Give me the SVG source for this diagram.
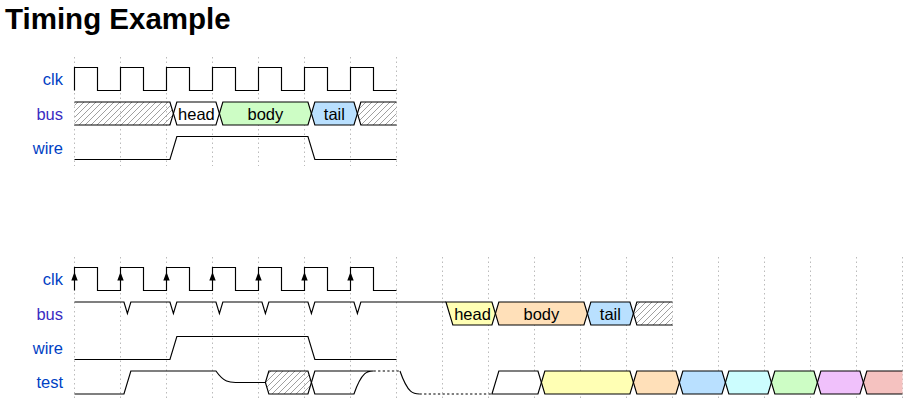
<svg xmlns="http://www.w3.org/2000/svg" width="916" height="418" viewBox="0 0 916 418">
<style>
.title{font-family:"Liberation Sans",Arial,sans-serif;font-weight:bold;font-size:29.5px;fill:#000}
.lbl{font-family:"Liberation Sans",Arial,sans-serif;font-size:16.5px;fill:#0041c4;text-anchor:end}
.lbl.b{fill:#3a2cc2}
.dt{font-family:"Liberation Sans",Arial,sans-serif;font-size:16.5px;fill:#000;text-anchor:middle}
.grid{stroke:#bbb;stroke-width:1;stroke-dasharray:1.5,3}
.w{fill:none;stroke:#000;stroke-width:1.15;stroke-linejoin:miter}
.box{stroke:#000;stroke-width:1.15}
.dot{fill:none;stroke:#000;stroke-width:1.15;stroke-dasharray:2.3,2.3}
.arr{fill:#000;stroke:none}
</style>
<defs>
<pattern id="hatch" patternUnits="userSpaceOnUse" width="6" height="6">
<path d="M-1,1 l2,-2 M0,6 l6,-6 M5,7 l2,-2" stroke="#888" stroke-width="0.8"/>
</pattern>
</defs>
<rect width="916" height="418" fill="#fff"/>
<text class="title" x="5" y="29">Timing Example</text>

<g id="grid1">
<path class="grid" d="M74.5,57V166 M120.5,57V166 M166.5,57V166 M212.5,57V166 M258.5,57V166 M304.5,57V166 M350.5,57V166 M396.5,57V166"/>
</g>
<g id="grid2">
<path class="grid" d="M74.5,257V400 M120.5,257V400 M166.5,257V400 M212.5,257V400 M258.5,257V400 M304.5,257V400 M350.5,257V400 M396.5,257V400 M442.5,257V400 M488.5,257V400 M534.5,257V400 M580.5,257V400 M626.5,257V400 M672.5,257V400 M718.5,257V400 M764.5,257V400 M810.5,257V400 M856.5,257V400 M902.5,257V400"/>
</g>

<g id="clk1">
<text class="lbl" x="63" y="85">clk</text>
<path class="w" d="M74.5,90.5V67.5H97.5V90.5H120.5V67.5H143.5V90.5H166.5V67.5H189.5V90.5H212.5V67.5H235.5V90.5H258.5V67.5H281.5V90.5H304.5V67.5H327.5V90.5H350.5V67.5H373.5V90.5H396.5"/>
</g>

<g id="bus1">
<text class="lbl b" x="63" y="119.5">bus</text>
<path class="box" fill="url(#hatch)" d="M74.5,102H169.95L173.4,113.5L169.95,125H74.5"/>
<path class="box" fill="#fff" d="M173.4,113.5L176.85,102H215.95L219.4,113.5L215.95,125H176.85Z"/>
<path class="box" fill="#cdfdc5" d="M219.4,113.5L222.85,102H307.95L311.4,113.5L307.95,125H222.85Z"/>
<path class="box" fill="#b9e0ff" d="M311.4,113.5L314.85,102H353.95L357.4,113.5L353.95,125H314.85Z"/>
<path class="box" fill="url(#hatch)" d="M396.5,102H360.85L357.4,113.5L360.85,125H396.5"/>
<text class="dt" x="196.4" y="119.5">head</text>
<text class="dt" x="265.4" y="119.5">body</text>
<text class="dt" x="334.4" y="119.5">tail</text>
</g>

<g id="wire1">
<text class="lbl" x="63" y="154">wire</text>
<path class="w" d="M74.5,159.5H169.95L176.85,136.5H307.95L314.85,159.5H396.5"/>
</g>

<g id="clk2">
<text class="lbl" x="63" y="285">clk</text>
<path class="w" d="M74.5,290.5V267.5H97.5V290.5H120.5V267.5H143.5V290.5H166.5V267.5H189.5V290.5H212.5V267.5H235.5V290.5H258.5V267.5H281.5V290.5H304.5V267.5H327.5V290.5H350.5V267.5H373.5V290.5H396.5"/>
<path class="arr" d="M71.3,280.5L74.5,272L77.7,280.5Z M117.3,280.5L120.5,272L123.7,280.5Z M163.3,280.5L166.5,272L169.7,280.5Z M209.3,280.5L212.5,272L215.7,280.5Z M255.3,280.5L258.5,272L261.7,280.5Z M301.3,280.5L304.5,272L307.7,280.5Z M347.3,280.5L350.5,272L353.7,280.5Z"/>
</g>

<g id="bus2">
<text class="lbl b" x="63" y="319.5">bus</text>
<path class="w" d="M74.5,302H123.95L127.4,313.5L130.85,302H169.95L173.4,313.5L176.85,302H215.95L219.4,313.5L222.85,302H261.95L265.4,313.5L268.85,302H307.95L311.4,313.5L314.85,302H353.95L357.4,313.5L360.85,302H445.95"/>
<path class="box" fill="#ffffb4" d="M445.95,302H491.95L495.4,313.5L491.95,325H452.85Z"/>
<path class="box" fill="#ffe0b9" d="M495.4,313.5L498.85,302H583.95L587.4,313.5L583.95,325H498.85Z"/>
<path class="box" fill="#b9e0ff" d="M587.4,313.5L590.85,302H629.95L633.4,313.5L629.95,325H590.85Z"/>
<path class="box" fill="url(#hatch)" d="M672.5,302H636.85L633.4,313.5L636.85,325H672.5"/>
<text class="dt" x="472.5" y="319.5">head</text>
<text class="dt" x="541.4" y="319.5">body</text>
<text class="dt" x="610.4" y="319.5">tail</text>
</g>

<g id="wire2">
<text class="lbl" x="63" y="354">wire</text>
<path class="w" d="M74.5,359.5H169.95L176.85,336.5H307.95L314.85,359.5H396.5"/>
</g>

<g id="test">
<text class="lbl" x="63" y="388">test</text>
<path class="w" d="M74.5,394H123.95L130.85,371H215.95C224,382.5 229.75,382.5 235.5,382.5H265.4"/>
<path class="box" fill="url(#hatch)" d="M265.4,382.5L268.85,371H307.95L311.4,382.5L307.95,394H268.85Z"/>
<path class="w" d="M311.4,382.5L314.85,371H373.5 M311.4,382.5L314.85,394H353.95C362,371 367.75,371 373.5,371"/>
<path class="dot" d="M373.5,371H399.95"/>
<path class="w" d="M399.95,371C408,394 413.75,394 419.5,394"/>
<path class="dot" d="M419.5,394H491.95"/>
<path class="box" fill="#fff" d="M491.95,394L498.85,371H537.95L541.4,382.5L537.95,394Z"/>
<path class="box" fill="#ffffb4" d="M541.4,382.5L544.85,371H629.95L633.4,382.5L629.95,394H544.85Z"/>
<path class="box" fill="#ffe0b9" d="M633.4,382.5L636.85,371H675.95L679.4,382.5L675.95,394H636.85Z"/>
<path class="box" fill="#b9e0ff" d="M679.4,382.5L682.85,371H721.95L725.4,382.5L721.95,394H682.85Z"/>
<path class="box" fill="#ccfdfe" d="M725.4,382.5L728.85,371H767.95L771.4,382.5L767.95,394H728.85Z"/>
<path class="box" fill="#cdfdc5" d="M771.4,382.5L774.85,371H813.95L817.4,382.5L813.95,394H774.85Z"/>
<path class="box" fill="#f0c1fb" d="M817.4,382.5L820.85,371H859.95L863.4,382.5L859.95,394H820.85Z"/>
<path class="box" fill="#f5c2c0" d="M902.5,371H866.85L863.4,382.5L866.85,394H902.5"/>
</g>

<g id="connectors"></g>
</svg>
